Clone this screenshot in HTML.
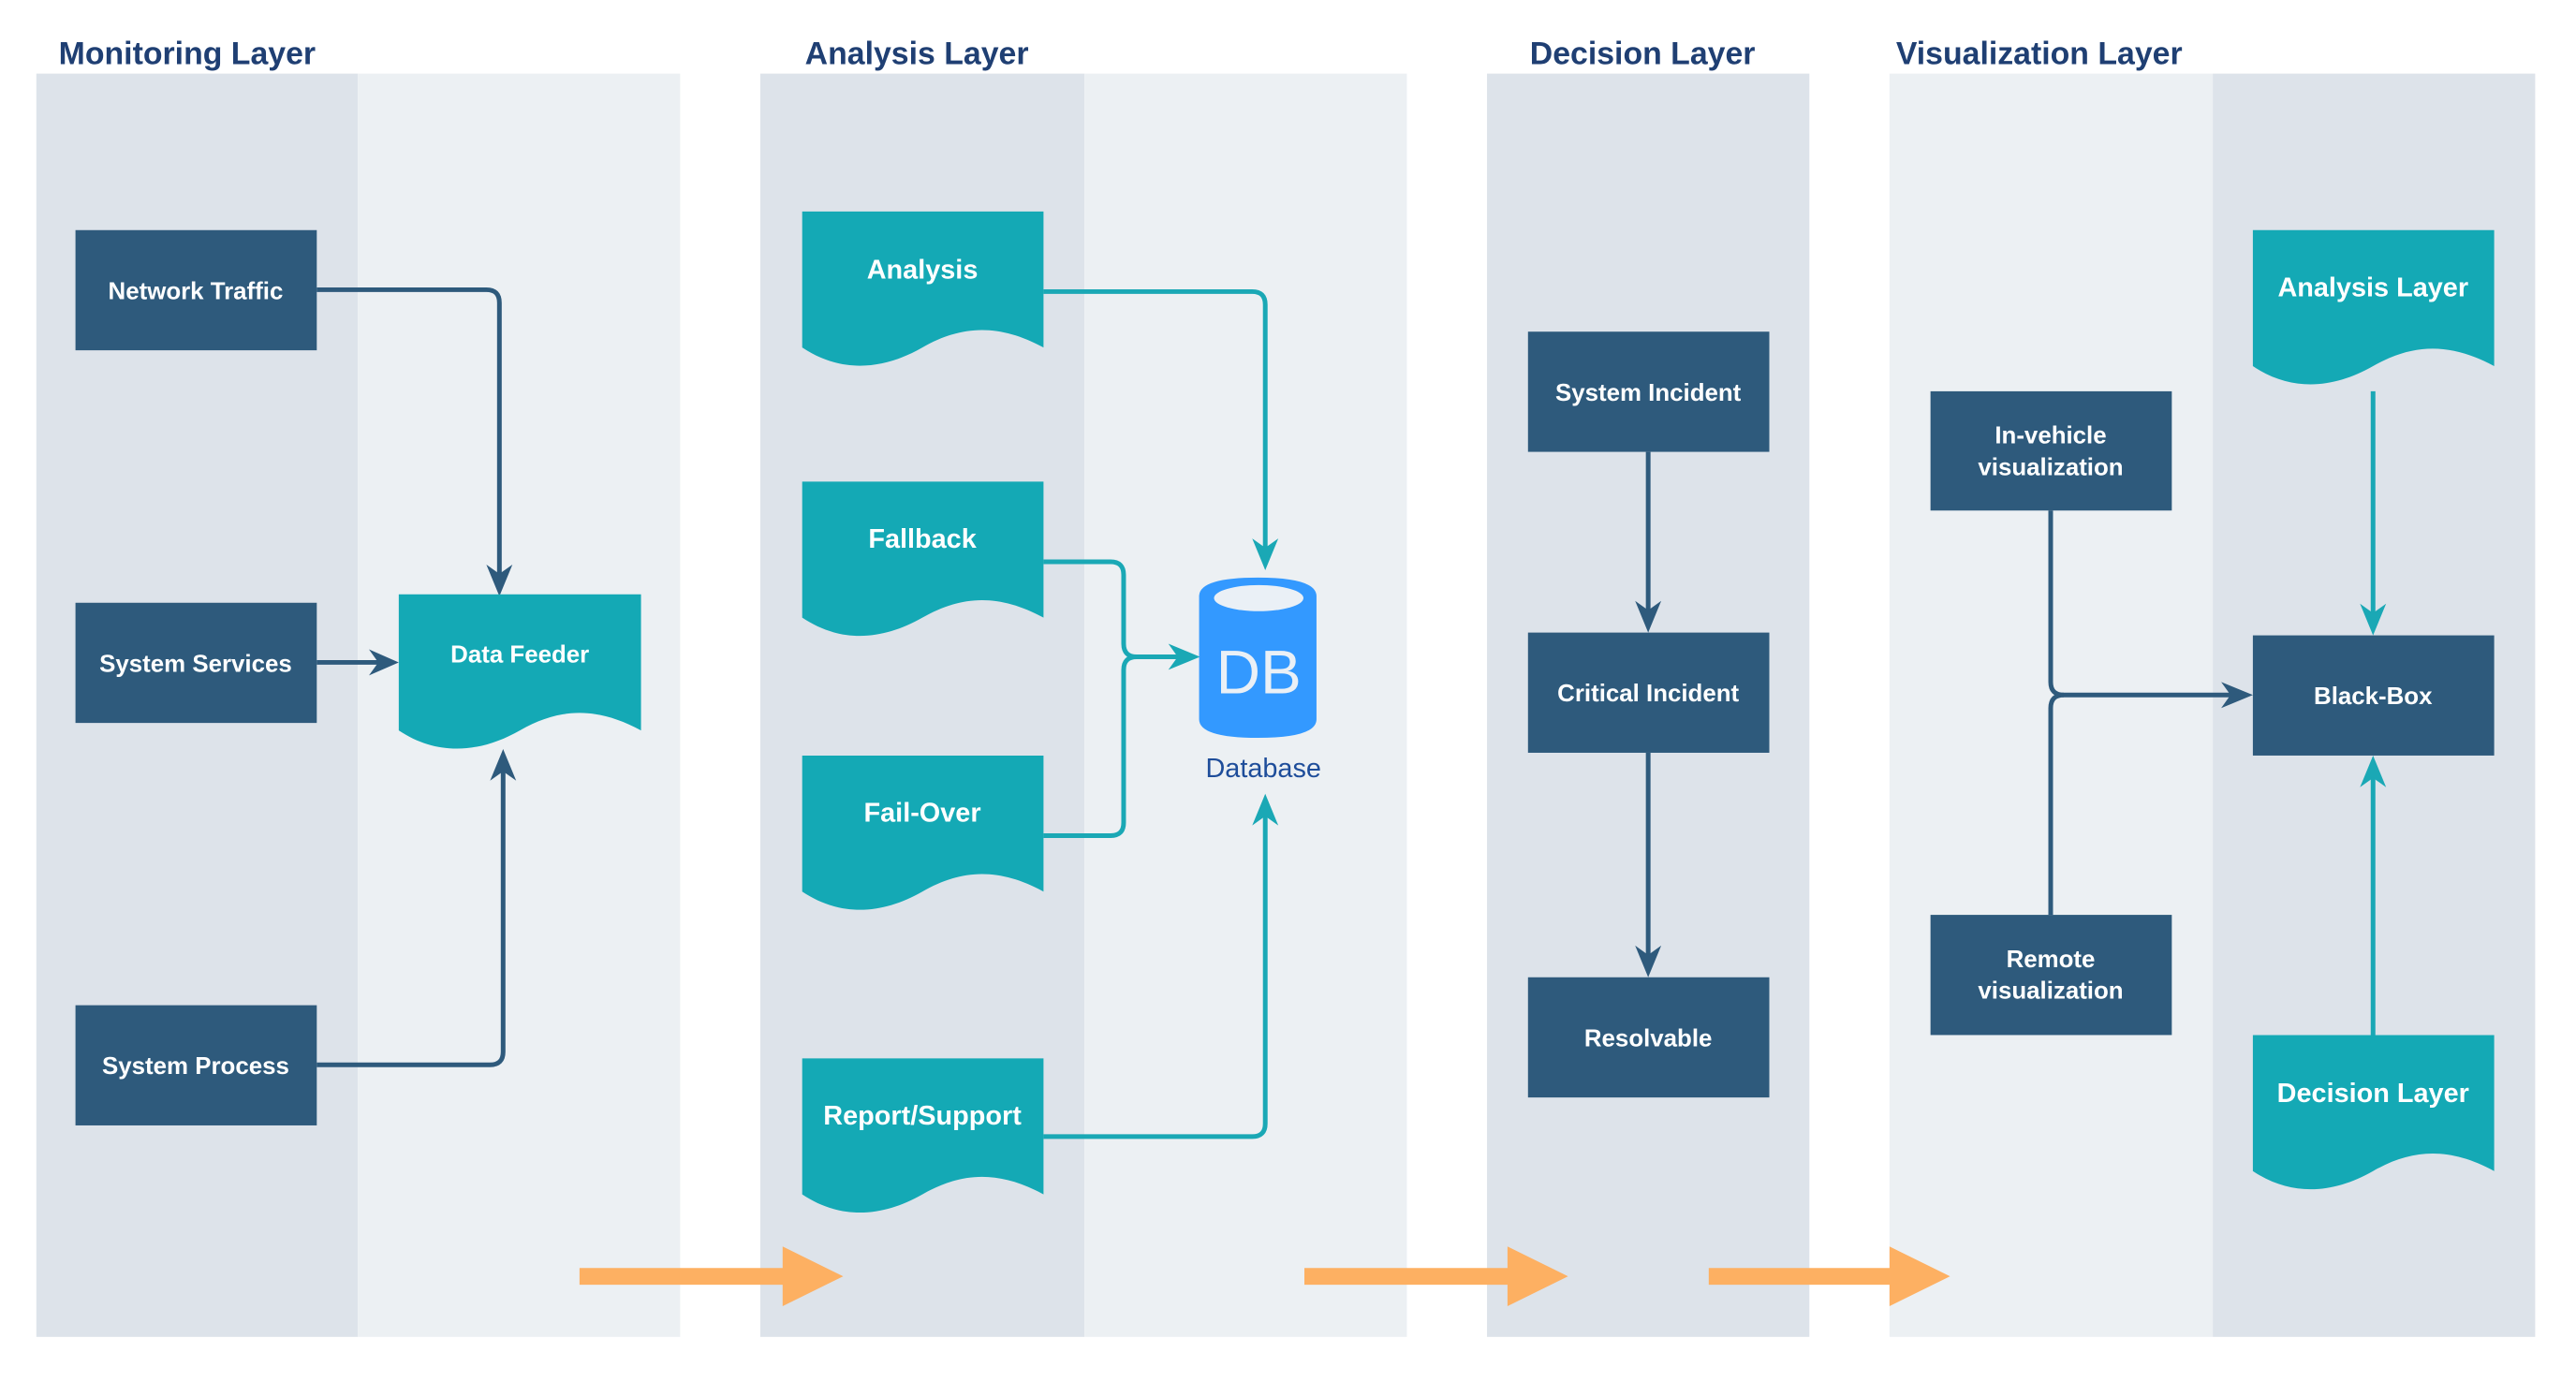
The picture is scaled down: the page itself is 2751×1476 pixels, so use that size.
<!DOCTYPE html>
<html><head><meta charset="utf-8"><style>
html,body{margin:0;padding:0;background:#fff;}
svg{display:block;}
text{font-family:"Liberation Sans",Arial,sans-serif;}
.t{font-size:34px;font-weight:bold;fill:#1f3f73;}
.n{font-size:26px;font-weight:bold;fill:#fff;text-anchor:middle;}
.d{font-size:29px;font-weight:bold;fill:#fff;text-anchor:middle;}
</style></head><body>
<svg width="2751" height="1476" viewBox="0 0 2751 1476" xmlns="http://www.w3.org/2000/svg">
<g transform="scale(0.995)">
<!-- lanes -->
<rect x="39" y="79" width="345" height="1356" fill="#dde3ea"/>
<rect x="384" y="79" width="346" height="1356" fill="#ecf0f3"/>
<rect x="816" y="79" width="348" height="1356" fill="#dde3ea"/>
<rect x="1164" y="79" width="346" height="1356" fill="#ecf0f3"/>
<rect x="1596" y="79" width="346" height="1356" fill="#dde3ea"/>
<rect x="2028" y="79" width="347" height="1356" fill="#ecf0f3"/>
<rect x="2375" y="79" width="346" height="1356" fill="#dde3ea"/>
<!-- titles -->
<text class="t" x="63" y="69">Monitoring Layer</text>
<text class="t" x="864" y="69">Analysis Layer</text>
<text class="t" x="1642" y="69">Decision Layer</text>
<text class="t" x="2035" y="69">Visualization Layer</text>

<!-- connectors dark -->
<g fill="none" stroke="#2e5a7c" stroke-width="5">
<path d="M340 311 H522 Q536 311 536 325 V620"/>
<path d="M340 711 H410"/>
<path d="M340 1143 H526 Q540 1143 540 1129 V822"/>
<path d="M1769 485 V660"/>
<path d="M1769 808 V1030"/>
<path d="M2201 548 V732 Q2201 746 2215 746 H2400"/>
<path d="M2201 982 V760 Q2201 746 2215 746"/>
</g>
<g fill="#2e5a7c">
<path d="M536 640 L522 606 L536 616 L550 606 Z"/>
<path d="M428 711 L396 697 L406 711 L396 725 Z"/>
<path d="M540 804 L526 838 L540 828 L554 838 Z"/>
<path d="M1769 679 L1755 645 L1769 655 L1783 645 Z"/>
<path d="M1769 1049 L1755 1015 L1769 1025 L1783 1015 Z"/>
<path d="M2418 746 L2384 732 L2394 746 L2384 760 Z"/>
</g>
<!-- connectors teal -->
<g fill="none" stroke="#1aa8b5" stroke-width="5">
<path d="M1120 313 H1344 Q1358 313 1358 327 V595"/>
<path d="M1120 603 H1192 Q1206 603 1206 617 V691 Q1206 705 1220 705 H1270"/>
<path d="M1120 897 H1192 Q1206 897 1206 883 V719 Q1206 705 1220 705"/>
<path d="M1120 1220 H1344 Q1358 1220 1358 1206 V870"/>
<path d="M2547 420 V665"/>
<path d="M2547 1111 V828"/>
</g>
<g fill="#1aa8b5">
<path d="M1358 612 L1344 578 L1358 588 L1372 578 Z"/>
<path d="M1288 705 L1254 691 L1264 705 L1254 719 Z"/>
<path d="M1358 852 L1344 886 L1358 876 L1372 886 Z"/>
<path d="M2547 682 L2533 648 L2547 658 L2561 648 Z"/>
<path d="M2547 811 L2533 845 L2547 835 L2561 845 Z"/>
</g>

<!-- dark nodes -->
<g fill="#2e5a7c">
<rect x="81" y="247" width="259" height="129"/>
<rect x="81" y="647" width="259" height="129"/>
<rect x="81" y="1079" width="259" height="129"/>
<rect x="1640" y="356" width="259" height="129"/>
<rect x="1640" y="679" width="259" height="129"/>
<rect x="1640" y="1049" width="259" height="129"/>
<rect x="2072" y="420" width="259" height="128"/>
<rect x="2072" y="982" width="259" height="129"/>
<rect x="2418" y="682" width="259" height="129"/>
</g>
<text class="n" x="210" y="321">Network Traffic</text>
<text class="n" x="210" y="721">System Services</text>
<text class="n" x="210" y="1153">System Process</text>
<text class="n" x="1769" y="430">System Incident</text>
<text class="n" x="1769" y="753">Critical Incident</text>
<text class="n" x="1769" y="1123">Resolvable</text>
<text class="n" x="2201" y="476">In-vehicle</text>
<text class="n" x="2201" y="510">visualization</text>
<text class="n" x="2201" y="1038">Remote</text>
<text class="n" x="2201" y="1072">visualization</text>
<text class="n" x="2547" y="756">Black-Box</text>

<!-- documents -->
<g fill="#14a9b5">
<path d="M428 638 H688 V784 C640 758 600 760 558 784 C516 808 470 812 428 784 Z"/>
<path d="M861 227 H1120 V373 C1072 347 1032 349 990 373 C948 397 903 401 861 373 Z"/>
<path d="M861 517 H1120 V663 C1072 637 1032 639 990 663 C948 687 903 691 861 663 Z"/>
<path d="M861 811 H1120 V957 C1072 931 1032 933 990 957 C948 981 903 985 861 957 Z"/>
<path d="M861 1136 H1120 V1282 C1072 1256 1032 1258 990 1282 C948 1306 903 1310 861 1282 Z"/>
<path d="M2418 247 H2677 V393 C2629 367 2589 369 2547 393 C2505 417 2460 421 2418 393 Z"/>
<path d="M2418 1111 H2677 V1257 C2629 1231 2589 1233 2547 1257 C2505 1281 2460 1285 2418 1257 Z"/>
</g>
<text class="n" x="558" y="711">Data Feeder</text>
<text class="d" x="990" y="299">Analysis</text>
<text class="d" x="990" y="588">Fallback</text>
<text class="d" x="990" y="882">Fail-Over</text>
<text class="d" x="990" y="1207">Report/Support</text>
<text class="d" x="2547" y="318">Analysis Layer</text>
<text class="d" x="2547" y="1183">Decision Layer</text>

<!-- database -->
<path d="M1287 640 Q1287 620 1350 620 Q1413 620 1413 640 V772 Q1413 792 1350 792 Q1287 792 1287 772 Z" fill="#3399ff"/>
<ellipse cx="1351" cy="642" rx="48" ry="14" fill="#eaf0f6"/>
<text x="1351" y="744" font-size="66" fill="#eaf0f6" text-anchor="middle">DB</text>
<text x="1356" y="834" font-size="29" fill="#1e4d9a" text-anchor="middle">Database</text>

<!-- orange arrows -->
<g fill="#fdb062">
<path d="M622 1361 H840 V1338 L905 1370 L840 1402 V1379 H622 Z"/>
<path d="M1400 1361 H1618 V1338 L1683 1370 L1618 1402 V1379 H1400 Z"/>
<path d="M1834 1361 H2028 V1338 L2093 1370 L2028 1402 V1379 H1834 Z"/>
</g>
</g>
</svg>
</body></html>
